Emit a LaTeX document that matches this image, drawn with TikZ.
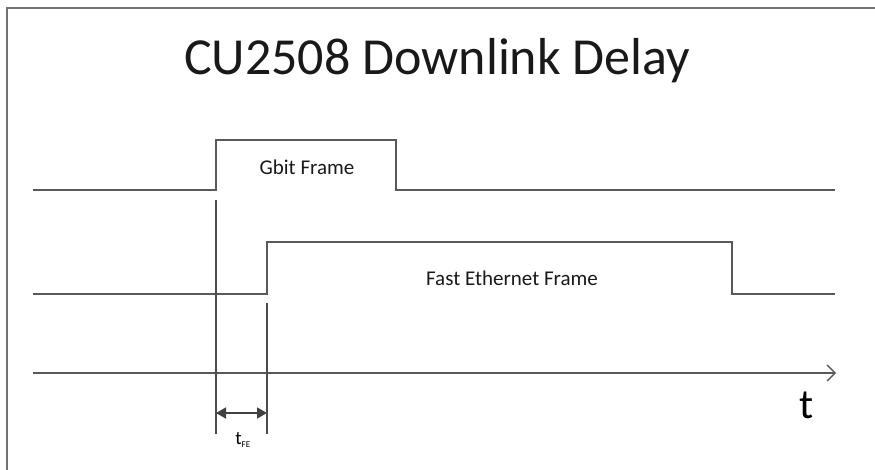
\documentclass[tikz,border=0pt]{standalone}
\usepackage{fontspec}
\setmainfont{Carlito}
\usetikzlibrary{arrows.meta,positioning}

\begin{document}
\begin{tikzpicture}[
    x=1pt, y=-1pt,
    signal/.style={draw=black!65, line width=1.6pt, line join=miter},
    marker/.style={draw=black!70, line width=1.4pt},
    axisarrow/.style={draw=black!65, line width=1.4pt, -{Straight Barb[length=8pt,width=16pt]}},
    dimarrow/.style={draw=black!75, line width=1.8pt, {Triangle[length=10pt,width=11pt]}-{Triangle[length=10pt,width=11pt]}},
    label/.style={font=\fontsize{21}{24}\selectfont, text=black!90, inner sep=0pt},
    title/.style={font=\fontsize{52}{58}\selectfont, text=black!90, inner sep=0pt}
]
\useasboundingbox (0,0) rectangle (875,470);
\draw[draw=black!55, line width=1.8pt] (7,470) -- (7,8) -- (875,8);

\node (title) [title] at (437,61) {CU2508 Downlink Delay};

\coordinate (gstart) at (33,190);
\coordinate (grise) at (216,190);
\coordinate (gfall) at (396,190);
\coordinate (gend) at (835,190);
\draw[signal] (gstart) -- (grise) -- ++(0,-50) -| (gfall) -- (gend);
\node (gbit) [label] at (307,167) {Gbit Frame};

\coordinate (fstart) at (33,294);
\coordinate (frise) at (267,294);
\coordinate (ffall) at (732,294);
\coordinate (fend) at (835,294);
\draw[signal] (fstart) -- (frise) -- ++(0,-52) -| (ffall) -- (fend);
\node (fe) [label] at (512,278) {Fast Ethernet Frame};

\coordinate (tstart) at (33,373);
\coordinate (tend) at (836,373);
\draw[axisarrow] (tstart) -- (tend);
\node (t) [font=\fontsize{42}{46}\selectfont, inner sep=0pt] at (807,405) {t};

\coordinate (m1top) at (216,200);
\coordinate (m1bot) at (216,434);
\coordinate (m2top) at (267,303);
\coordinate (m2bot) at (267,434);
\draw[marker] (m1top) -- (m1bot);
\draw[marker] (m2top) -- (m2bot);
\draw[dimarrow] (216,413) coordinate (d1) -- (267,413) coordinate (d2);
\node (tfe) [font=\fontsize{19}{20}\selectfont, inner sep=0pt] at (243,440) {t\textsubscript{\fontsize{9}{10}\selectfont FE}};
\end{tikzpicture}
\end{document}
